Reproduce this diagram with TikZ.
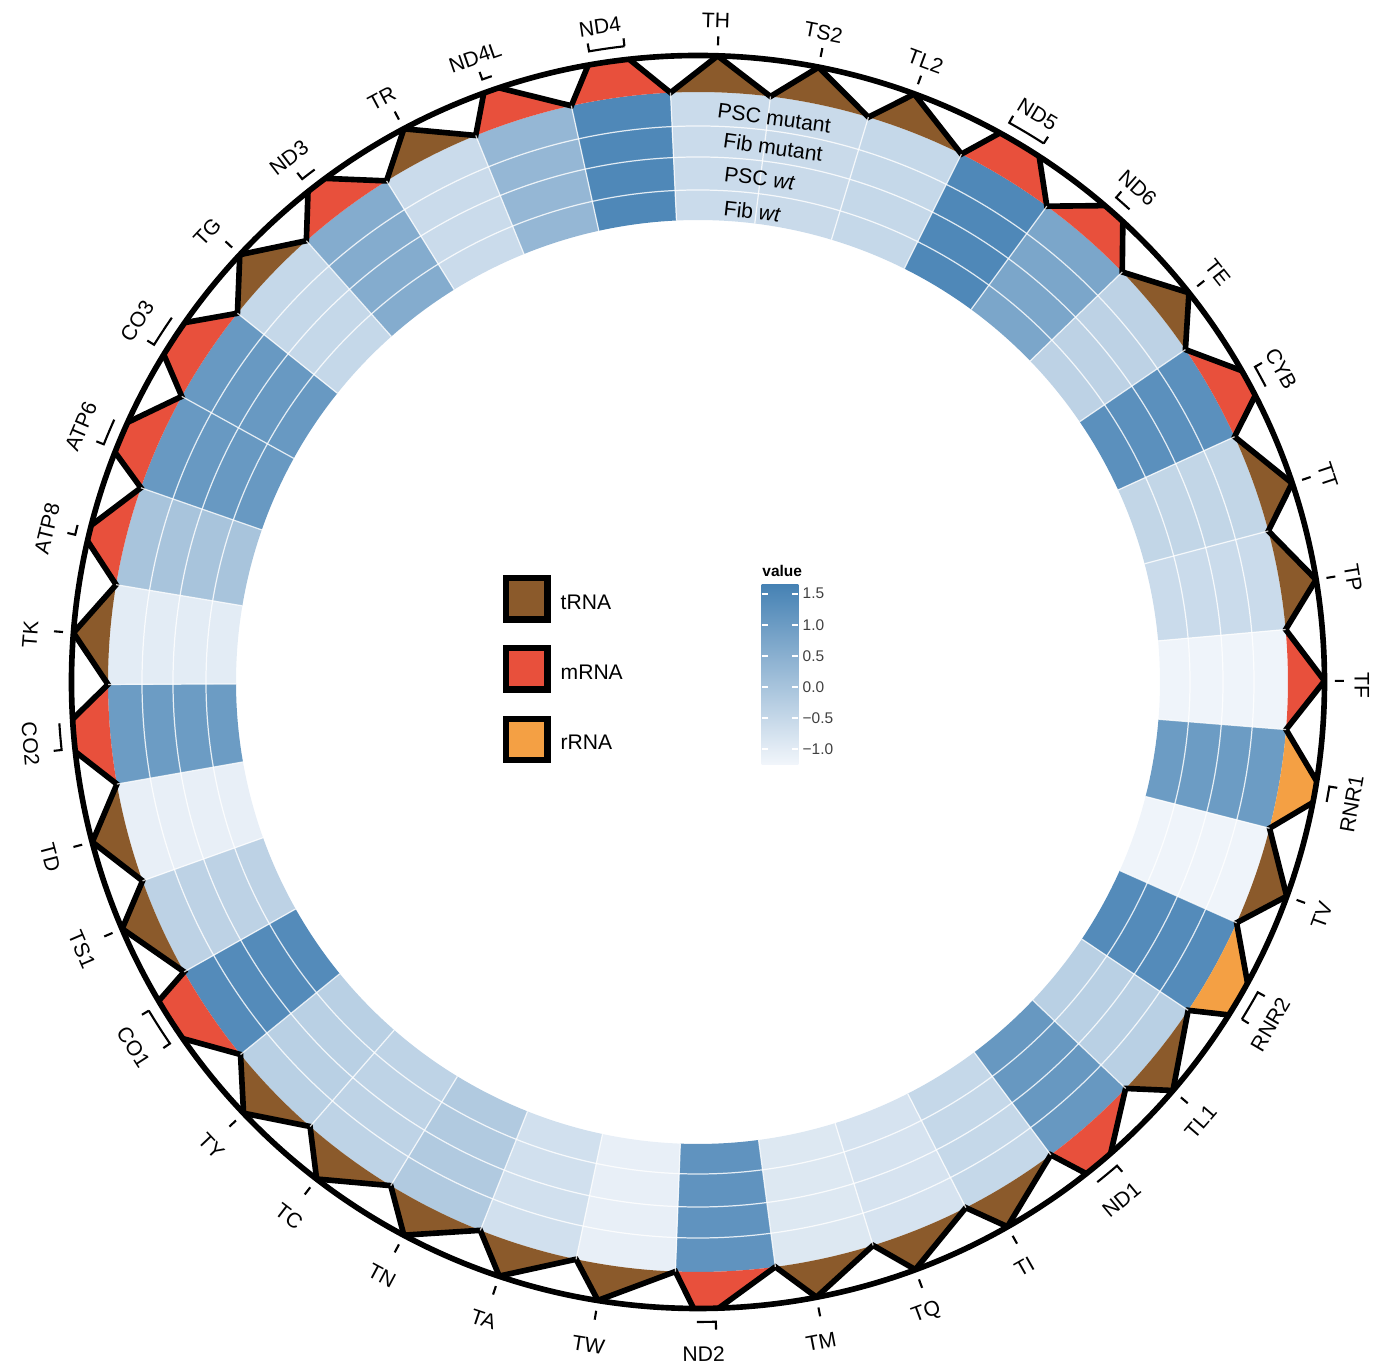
\documentclass[tikz,border=0pt]{standalone}
\usepackage{fontspec}
\setmainfont{Liberation Sans}
\usepackage{xcolor}
\usepackage{tikz}

\definecolor{trnac}{RGB}{139,90,43}
\definecolor{mrnac}{RGB}{232,80,60}
\definecolor{rrnac}{RGB}{244,160,68}
\definecolor{hic}{RGB}{70,130,180}
\definecolor{loc}{RGB}{242,246,251}

\tikzset{
  zig/.style={line width=1.6pt, line join=miter},
  genetick/.style={line width=0.6pt},
  genelab/.style={font=\fontsize{6}{7}\selectfont, inner sep=0pt},
  rowlab/.style={font=\fontsize{6}{7}\selectfont, inner sep=0pt},
  legbox/.style={draw=black, line width=1.8pt, minimum size=0.415cm, inner sep=0pt},
  legtext/.style={font=\fontsize{6}{7}\selectfont, anchor=west, inner sep=0pt},
  barlab/.style={font=\fontsize{4.4}{5}\selectfont, anchor=west, inner sep=0pt, text=black!75},
  sep/.style={white, line width=0.35pt, opacity=0.8}
}

\begin{document}
\begin{tikzpicture}[x=0.01cm, y=0.01cm]
  \useasboundingbox (-698,-685) rectangle (686,682);
  %% heatmap, gene triangles, gene labels
  \def\prevab{-251.5}
  \foreach \k/\nm/\ty/\aa/\ab/\mk/\va/\vb/\vc/\vd in {
      1/ND4/mrnac/100.1/96.3/3/1.5/1.5/1.5/1.5,
      2/TH/trnac/88.2/88.2/0/-0.6/-0.6/-0.6/-0.6,
      3/TS2/trnac/78.9/78.9/0/-0.55/-0.55/-0.55/-0.55,
      4/TL2/trnac/69.8/69.8/0/-0.5/-0.5/-0.5/-0.5,
      5/ND5/mrnac/61.2/57.0/3/1.5/1.5/1.5/1.5,
      6/ND6/mrnac/49.5/47.3/1/0.75/0.75/0.75/0.75,
      7/TE/trnac/38.4/38.4/0/-0.35/-0.35/-0.35/-0.35,
      8/CYB/mrnac/29.8/27.2/1/1.3/1.3/1.3/1.3,
      9/TT/trnac/18.5/18.5/0/-0.45/-0.45/-0.45/-0.45,
      10/TP/trnac/9.4/9.4/0/-0.6/-0.6/-0.6/-0.6,
      11/TF/mrnac/0.1/0.1/0/-1.2/-1.2/-1.2/-1.2,
      12/RNR1/rrnac/-9.1/-11.1/1/1.0/1.0/1.0/1.0,
      13/TV/trnac/-20.0/-20.0/0/-1.2/-1.2/-1.2/-1.2,
      14/RNR2/rrnac/-28.7/-32.1/3/1.4/1.4/1.4/1.4,
      15/TL1/trnac/-40.7/-40.7/0/-0.3/-0.3/-0.3/-0.3,
      16/ND1/mrnac/-48.8/-51.7/1/1.1/1.1/1.1/1.1,
      17/TI/trnac/-60.4/-60.4/0/-0.5/-0.5/-0.5/-0.5,
      18/TQ/trnac/-69.7/-69.7/0/-0.8/-0.8/-0.8/-0.8,
      19/TM/trnac/-79.1/-79.1/0/-0.9/-0.9/-0.9/-0.9,
      20/ND2/mrnac/-88.1/-90.4/1/1.2/1.2/1.2/1.2,
      21/TW/trnac/-99.2/-99.2/0/-1.1/-1.1/-1.1/-1.1,
      22/TA/trnac/-108.5/-108.5/0/-0.7/-0.7/-0.7/-0.7,
      23/TN/trnac/-118.0/-118.0/0/-0.15/-0.15/-0.15/-0.15,
      24/TC/trnac/-127.5/-127.5/0/-0.4/-0.4/-0.4/-0.4,
      25/TY/trnac/-136.5/-136.5/0/-0.3/-0.3/-0.3/-0.3,
      26/CO1/mrnac/-145.3/-149.4/3/1.4/1.4/1.4/1.4,
      27/TS1/trnac/-156.8/-156.8/0/-0.35/-0.35/-0.35/-0.35,
      28/TD/trnac/-165.2/-165.2/0/-1.1/-1.1/-1.1/-1.1,
      29/CO2/mrnac/-173.6/-176.6/1/1.0/1.0/1.0/1.0,
      30/TK/trnac/-184.5/-184.5/0/-1.0/-1.0/-1.0/-1.0,
      31/ATP8/mrnac/-193.0/-194.5/1/0.0/0.0/0.0/0.0,
      32/ATP6/mrnac/-201.5/-204.5/1/1.05/1.05/1.05/1.05,
      33/CO3/mrnac/-211.5/-215.0/1/1.05/1.05/1.05/1.05,
      34/TG/trnac/-223.0/-223.0/0/-0.5/-0.5/-0.5/-0.5,
      35/ND3/mrnac/-231.5/-233.5/1/0.6/0.6/0.6/0.6,
      36/TR/trnac/-242.0/-242.0/0/-0.6/-0.6/-0.6/-0.6,
      37/ND4L/mrnac/-250.0/-251.5/1/0.3/0.3/0.3/0.3}{
    \pgfmathsetmacro\ba{102.4-9.7297*(\k-1)}
    \pgfmathsetmacro\bb{102.4-9.7297*\k}
    % heatmap cells, outer row first
    \foreach \ri/\ro/\vv in {556/590/\va, 525/556/\vb, 492/525/\vc, 462/492/\vd}{
      \pgfmathtruncatemacro\pct{max(0,min(100,round(100*(\vv+1.26)/2.9)))}
      \fill[fill=hic!\pct!loc] (\ba:\ro) arc[start angle=\ba, end angle=\bb, radius=\ro]
        -- (\bb:\ri) arc[start angle=\bb, end angle=\ba, radius=\ri] -- cycle;
    }
    % triangle
    \fill[fill=\ty] (\ba:590) -- (\aa:626.5) arc[start angle=\aa, end angle=\ab, radius=626.5]
      -- (\bb:590) arc[start angle=\bb, end angle=\ba, radius=590] -- cycle;
    \ifnum\k>1
      \draw[zig] (\prevab:626.5) -- (\ba:590) -- (\aa:626.5);
    \fi
    \xdef\prevab{\ab}
    % gene mark
    \ifnum\mk=0
      \draw[genetick] (\aa:637) -- (\aa:646);
    \else
      \pgfmathsetmacro\ta{\aa-0.3}
      \pgfmathsetmacro\tb{\ab+0.3}
      \draw[genetick] (\ta:648) -- (\ta:640) arc[start angle=\ta, end angle=\tb, radius=640];
      \ifnum\mk=3
        \draw[genetick] (\tb:640) -- (\tb:648);
      \fi
    \fi
    % gene label
    \pgfmathsetmacro\la{(\aa+\ab)/2}
    \pgfmathsetmacro\rot{sin(\la)>=0 ? \la-90 : \la+90}
    \node[genelab, rotate=\rot] (g\k) at ([shift={(-3,-5)}]\la:667) {\nm};
  }
  \draw[zig] (\prevab:626.5) -- (102.4:590) -- (100.1:626.5);

  %% cell borders
  \foreach \r in {492,525,556}
    \draw[sep] (0,0) circle[radius=\r];
  \foreach \j in {0,...,36}
    \draw[sep] ({102.4-9.7297*\j}:462) -- ({102.4-9.7297*\j}:590);

  %% outer ring
  \draw[line width=1.6pt] (0,0) circle[radius=626.5];

  %% row names
  \node[rowlab, rotate=-7.7] (rpm) at (82.3:569) {PSC mutant};
  \node[rowlab, rotate=-8.0] (rfm) at (82.0:540) {Fib mutant};
  \node[rowlab, rotate=-7.0] (rpw) at (83.0:507.5) {PSC \textit{wt}};
  \node[rowlab, rotate=-6.6] (rfw) at (83.4:473.5) {Fib \textit{wt}};

  %% legend
  \node[legbox, fill=trnac] (lt) at (-171.3,83.3) {};
  \node[legbox, fill=mrnac] (lm) at (-171.3,13.2) {};
  \node[legbox, fill=rrnac] (lr) at (-171.3,-57.5) {};
  \node[legtext] (ltt) at (-138,80) {tRNA};
  \node[legtext] (lmt) at (-138,10) {mRNA};
  \node[legtext] (lrt) at (-138,-60.5) {rRNA};

  %% colour bar
  \shade[bottom color=loc, top color=hic] (63.7,-83) rectangle (100.3,97);
  \foreach \v/\lab in {1.5/1.5, 1.0/1.0, 0.5/0.5, 0.0/0.0, -0.5/−0.5, -1.0/−1.0}{
    \pgfmathsetmacro\yy{-4.7+62*\v}
    \draw[white, line width=0.5pt] (63.7,\yy) -- (70,\yy) (94,\yy) -- (100.3,\yy);
    \node[barlab] (cb\lab) at (104,\yy) {\lab};
  }
  \node[font=\bfseries\fontsize{4.4}{5}\selectfont, anchor=west, inner sep=0pt] (cbt) at (63.7,111) {value};
\end{tikzpicture}
\end{document}
